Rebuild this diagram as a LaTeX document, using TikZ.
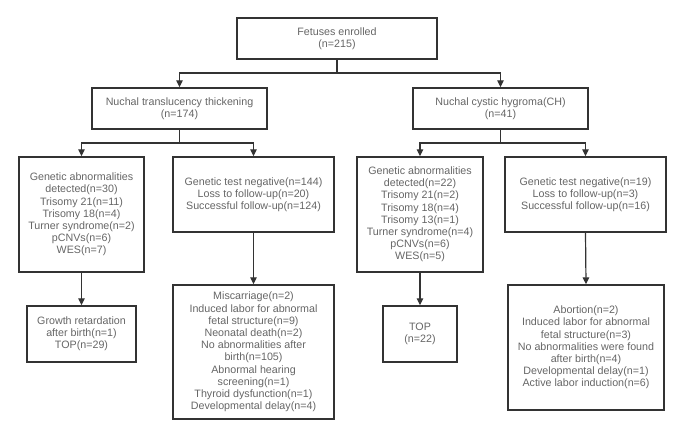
\documentclass[tikz,border=0pt]{standalone}
\usepackage{fontspec}
\setmainfont{Liberation Sans}
\usetikzlibrary{arrows.meta}
\definecolor{txt}{HTML}{666666}
\definecolor{edge}{HTML}{333333}
\begin{document}
\begin{tikzpicture}[x=1pt,y=-1pt,
  box/.style={draw=edge,line width=1.4pt,text=txt,align=center,
    font=\fontsize{10.7}{12.2}\selectfont,inner sep=0pt},
  conn/.style={draw=edge,line width=1.2pt},
  arr/.style={conn,-{Triangle[length=7pt,width=6.5pt]}}]
\useasboundingbox (0,0) rectangle (685,439);
\fill[white] (0,0) rectangle (685,439);

\node[box,minimum width=200pt,minimum height=41pt] (top) at (337,38.5) {Fetuses enrolled\\(n=215)};
\node[box,minimum width=175pt,minimum height=41pt] (nt) at (179.5,108.5) {Nuchal translucency thickening\\(n=174)};
\node[box,minimum width=175pt,minimum height=41pt] (ch) at (500.5,108.5) {Nuchal cystic hygroma(CH)\\(n=41)};

\node[box,minimum width=125pt,minimum height=115pt] (ga1) at (81.5,214.5) {Genetic abnormalities\\detected(n=30)\\Trisomy 21(n=11)\\Trisomy 18(n=4)\\Turner syndrome(n=2)\\pCNVs(n=6)\\WES(n=7)};
\node[box,minimum width=161pt,minimum height=75pt] (gt1) at (253.5,194.5) {Genetic test negative(n=144)\\Loss to follow-up(n=20)\\Successful follow-up(n=124)};
\node[box,minimum width=126pt,minimum height=115pt] (ga2) at (420,214.5) {Genetic abnormalities\\detected(n=22)\\Trisomy 21(n=2)\\Trisomy 18(n=4)\\Trisomy 13(n=1)\\Turner syndrome(n=4)\\pCNVs(n=6)\\WES(n=5)};
\node[box,minimum width=161pt,minimum height=75pt] (gt2) at (585.5,194.5) {Genetic test negative(n=19)\\Loss to follow-up(n=3)\\Successful follow-up(n=16)};

\node[box,minimum width=109pt,minimum height=56pt] (gr1) at (81.5,334) {Growth retardation\\after birth(n=1)\\TOP(n=29)};
\node[box,minimum width=161pt,minimum height=134pt] (mis) at (253.5,352) {Miscarriage(n=2)\\Induced labor for abnormal\\fetal structure(n=9)\\Neonatal death(n=2)\\No abnormalities after\\birth(n=105)\\Abnormal hearing\\screening(n=1)\\Thyroid dysfunction(n=1)\\Developmental delay(n=4)};
\node[box,minimum width=74pt,minimum height=56pt] (top2) at (420,334) {TOP\\(n=22)};
\node[box,minimum width=156pt,minimum height=125pt] (ab) at (586,347.5) {Abortion(n=2)\\Induced labor for abnormal\\fetal structure(n=3)\\No abnormalities were found\\after birth(n=4)\\Developmental delay(n=1)\\Active labor induction(n=6)};

\coordinate (j1) at (337,73);
\coordinate (j2) at (179.5,143);
\coordinate (j3) at (500.5,143);

\draw[conn] (top.south) -- (j1);
\draw[arr] (j1) -| (nt.north);
\draw[arr] (j1) -| (ch.north);
\draw[conn] (nt.south) -- (j2);
\draw[arr] (j2) -| (ga1.north);
\draw[arr] (j2) -| (gt1.north);
\draw[conn] (ch.south) -- (j3);
\draw[arr] (j3) -| (ga2.north);
\draw[arr] (j3) -| (gt2.north);
\draw[arr] (ga1.south) -- (gr1.north);
\draw[arr] (gt1.south) -- (mis.north);
\draw[arr] (ga2.south) -- (top2.north);
\draw[arr] (gt2.south) -- (ab.north);
\end{tikzpicture}
\end{document}
